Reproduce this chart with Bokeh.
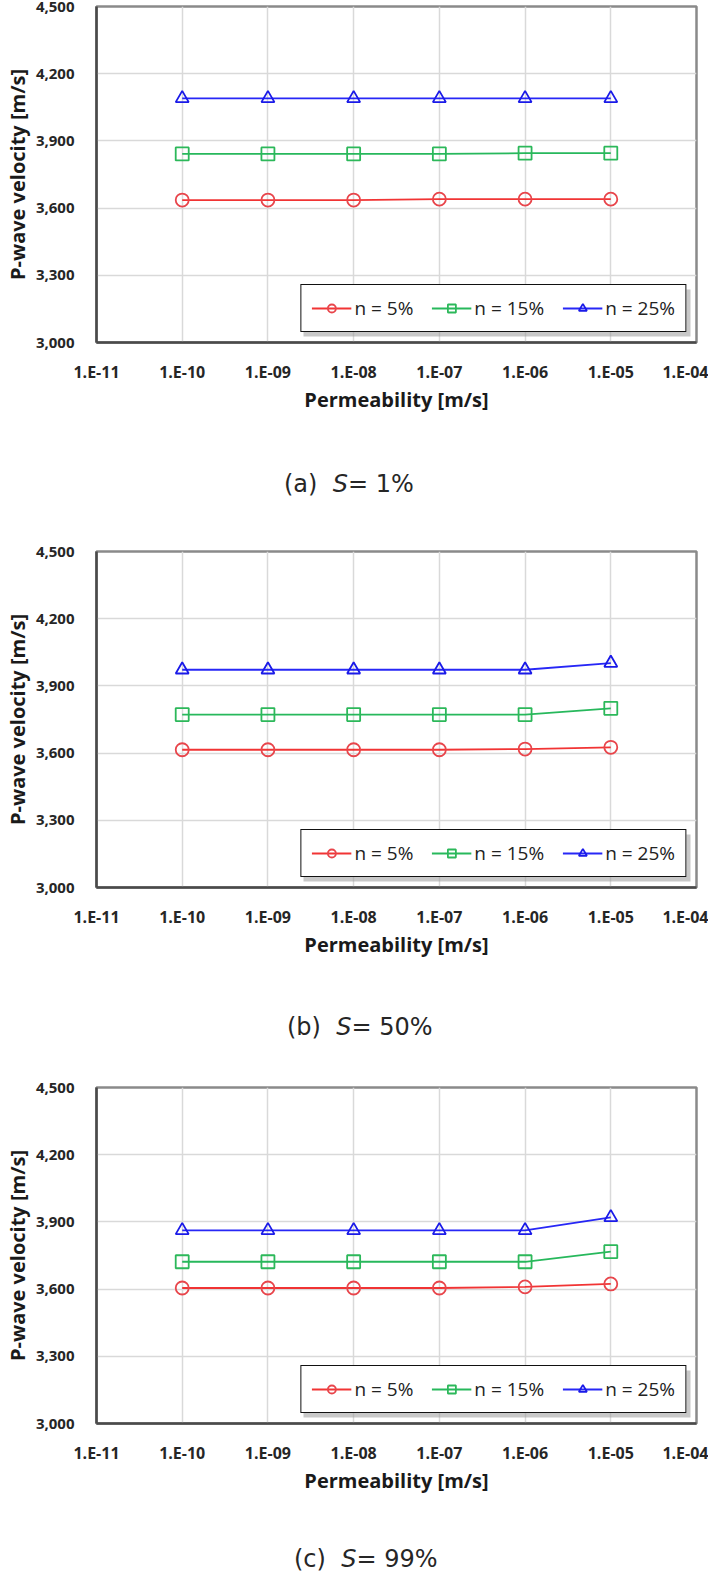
from bokeh.plotting import figure
from bokeh.models import (Range1d, FixedTicker, NumeralTickFormatter, CustomJSTickFormatter,
                          Legend, LegendItem, Div, BoxAnnotation)
from bokeh.layouts import column
from bokeh.embed import file_html
from bokeh.resources import INLINE

# ---------------- data ----------------
permeability = [1e-10, 1e-9, 1e-8, 1e-7, 1e-6, 1e-5]
x_ticks = [1e-11, 1e-10, 1e-9, 1e-8, 1e-7, 1e-6, 1e-5, 1e-4]
y_ticks = [3000, 3300, 3600, 3900, 4200, 4500]
series_labels = ["n = 5%", "n = 15%", "n = 25%"]

s01_n05 = [3636, 3636, 3636, 3640, 3640, 3640]
s01_n15 = [3842, 3842, 3842, 3842, 3845, 3845]
s01_n25 = [4090, 4090, 4090, 4090, 4090, 4090]

s50_n05 = [3615, 3615, 3615, 3615, 3618, 3626]
s50_n15 = [3772, 3772, 3772, 3772, 3772, 3800]
s50_n25 = [3972, 3972, 3972, 3972, 3972, 4002]

s99_n05 = [3605, 3605, 3605, 3605, 3610, 3623]
s99_n15 = [3722, 3722, 3722, 3722, 3722, 3767]
s99_n25 = [3862, 3862, 3862, 3862, 3862, 3920]

caption_tags = ["(a)", "(b)", "(c)"]
caption_values = ["1%", "50%", "99%"]

# ---------------- style ----------------
LINE_COLORS = ["#f01e1e", "#10b04a", "#1010f5"]
MARKER_COLORS = ["#e8454b", "#2cb85a", "#1a1ae8"]
MARKERS = ["circle", "square", "triangle"]
TICK_FONT = "Open Sans"
W = 708
FRAME_W, FRAME_H = 600, 336
X_LO, X_HI, Y_LO, Y_HI = 1e-11, 1e-4, 3000, 4500

xfmt_code = """
const e = Math.round(Math.log10(tick));
const a = Math.abs(e);
return '1.E' + (e < 0 ? '-' : '+') + (a < 10 ? '0' + a : '' + a);
"""


def px_to_x(dx):
    # pixel offset from the frame's left edge -> log-axis data value
    import math
    lo, hi = math.log10(X_LO), math.log10(X_HI)
    return 10 ** (lo + dx / FRAME_W * (hi - lo))


def px_to_y(dy):
    # pixel offset above the frame's bottom edge -> data value
    return Y_LO + dy / FRAME_H * (Y_HI - Y_LO)


def make_panel(series, height, b_top, b_bottom):
    p = figure(width=W, height=height, x_axis_type="log",
               x_range=Range1d(X_LO, X_HI), y_range=Range1d(Y_LO, Y_HI),
               output_backend="svg", toolbar_location=None, title=None,
               min_border_left=96, min_border_right=W - 96 - FRAME_W,
               min_border_top=b_top, min_border_bottom=b_bottom)
    p.background_fill_color = "white"
    p.border_fill_color = "white"
    p.outline_line_color = "#8a8a8a"
    p.outline_line_width = 2.5

    xt = FixedTicker(ticks=x_ticks, minor_ticks=[])
    yt = FixedTicker(ticks=y_ticks, minor_ticks=[])
    p.xaxis.ticker = xt
    p.yaxis.ticker = yt
    p.xgrid.ticker = xt
    p.ygrid.ticker = yt
    p.xaxis.formatter = CustomJSTickFormatter(code=xfmt_code)
    p.yaxis.formatter = NumeralTickFormatter(format="0,0")
    for g in (p.xgrid, p.ygrid):
        g.grid_line_color = "#d9d9d9"
        g.grid_line_width = 1.5

    for ax in (p.xaxis, p.yaxis):
        ax.axis_line_color = "#4a4a4a"
        ax.axis_line_width = 2.5
        ax.major_tick_line_color = None
        ax.minor_tick_line_color = None
        ax.major_label_text_font = TICK_FONT
        ax.major_label_text_font_style = "bold"
        ax.major_label_text_color = "#262626"
        ax.axis_label_text_font = TICK_FONT
        ax.axis_label_text_font_size = "20px"
        ax.axis_label_text_font_style = "bold"
        ax.axis_label_text_color = "#1a1a1a"
    p.yaxis.major_tick_out = 0
    p.yaxis.minor_tick_out = 0
    p.yaxis.major_tick_in = 0
    p.yaxis.minor_tick_in = 0
    p.xaxis.major_label_text_font_size = "16px"
    p.yaxis.major_label_text_font_size = "15px"
    p.xaxis.axis_label = "Permeability [m/s]"
    p.yaxis.axis_label = "P-wave velocity [m/s]"
    p.xaxis.major_label_standoff = 12
    p.xaxis.axis_label_standoff = 0
    p.yaxis.major_label_standoff = 22
    p.yaxis.axis_label_standoff = 2

    items = []
    for vals, lab, lc, mc, mk in zip(series, series_labels, LINE_COLORS, MARKER_COLORS, MARKERS):
        lr = p.line(permeability, vals, line_color=lc, line_width=1.8, line_alpha=0.9)
        sr = p.scatter(permeability, vals, marker=mk, size=13, fill_color=None,
                       line_color=mc, line_width=1.8)
        items.append(LegendItem(label=lab, renderers=[lr, sr]))

    # soft drop shadow behind the legend box
    p.add_layout(BoxAnnotation(left=px_to_x(207), right=px_to_x(594),
                               bottom=px_to_y(6), top=px_to_y(53),
                               fill_color="#9a9a9a", fill_alpha=0.55, line_color=None))

    leg = Legend(items=items, orientation="horizontal", location="bottom_right",
                 border_line_color="#111111", border_line_width=1.8, border_line_alpha=1,
                 background_fill_color="white", background_fill_alpha=1,
                 label_text_font=TICK_FONT, label_text_font_size="19px",
                 label_text_color="#222222",
                 glyph_width=40, glyph_height=20, spacing=18, padding=10,
                 margin=10, label_standoff=3)
    p.add_layout(leg)
    return p


def make_caption(tag, val, height, top_pad, left_pad):
    html = (f'<div style="margin:0;padding:0;padding-top:{top_pad}px;padding-left:{left_pad}px;'
            f'font-family:\'DejaVu Sans\';font-size:24px;line-height:26px;color:#262626;'
            f'white-space:nowrap;">{tag}&nbsp;&nbsp;<i>S</i>= {val}</div>')
    return Div(text=html, width=W, height=height, margin=0)


pa = make_panel([s01_n05, s01_n15, s01_n25], 440, 6, 98)
ca = make_caption(caption_tags[0], caption_values[0], 80, 31, 284)
pb = make_panel([s50_n05, s50_n15, s50_n25], 460, 31, 93)
cb = make_caption(caption_tags[1], caption_values[1], 80, 34, 287)
pc = make_panel([s99_n05, s99_n15, s99_n25], 453, 27, 90)
cc = make_caption(caption_tags[2], caption_values[2], 61, 33, 294)

layout = column(pa, ca, pb, cb, pc, cc, spacing=0)
open("out.html", "w").write(file_html(layout, INLINE))
